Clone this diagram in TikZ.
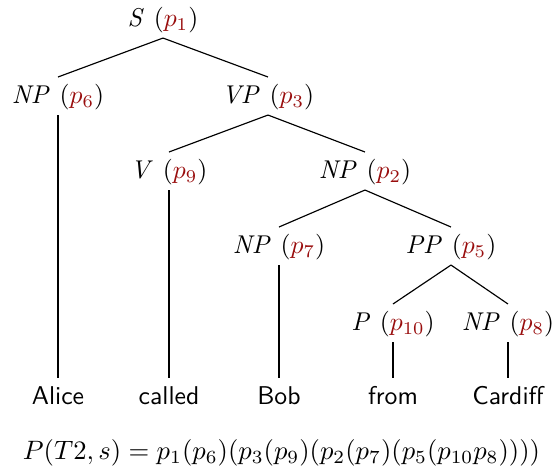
\documentclass[tikz,border=0pt]{standalone}
\usepackage{xcolor}
\definecolor{pred}{rgb}{0.6,0.05,0.05}
\newcommand{\pp}[1]{\textcolor{pred}{$p_{#1}$}}
\begin{document}
\begin{tikzpicture}[x=0.389pt,y=-0.389pt,
  lab/.style={inner sep=0pt,anchor=base},
  word/.style={inner sep=0pt,anchor=base,font=\sffamily},
  edge/.style={line width=0.45pt}]
\useasboundingbox (0,0) rectangle (554,473);
\node[lab] (s)   at (163,27)  {$\mathit{S}$ (\pp{1})};
\node[lab] (np6) at (58,104)  {$\mathit{NP}$ (\pp{6})};
\node[lab] (vp3) at (268,104) {$\mathit{VP}$ (\pp{3})};
\node[lab] (v9)  at (169,179) {$\mathit{V}$ (\pp{9})};
\node[lab] (np2) at (365,179) {$\mathit{NP}$ (\pp{2})};
\node[lab] (np7) at (279,254) {$\mathit{NP}$ (\pp{7})};
\node[lab] (pp5) at (451,254) {$\mathit{PP}$ (\pp{5})};
\node[lab] (p10) at (393,331) {$\mathit{P}$ (\pp{10})};
\node[lab] (np8) at (508,331) {$\mathit{NP}$ (\pp{8})};
\node[word] (alice)   at (58,405)  {Alice};
\node[word] (called)  at (169,405) {called};
\node[word] (bob)     at (279,405) {Bob};
\node[word] (from)    at (393,405) {from};
\node[word] (cardiff) at (508,405) {Cardiff};
\node[lab,scale=1.035] (formula) at (281.5,460) {$P(T2,s)=p_1(p_6)(p_3(p_9)(p_2(p_7)(p_5(p_{10}p_8))))$};
\foreach \a/\b in {s/np6,s/vp3,np6/alice,vp3/v9,vp3/np2,v9/called,np2/np7,np2/pp5,np7/bob,pp5/p10,pp5/np8,p10/from,np8/cardiff}
  \draw[edge] ([yshift=-4.3pt]\a.base) -- ([yshift=10.5pt]\b.base);
\end{tikzpicture}
\end{document}
